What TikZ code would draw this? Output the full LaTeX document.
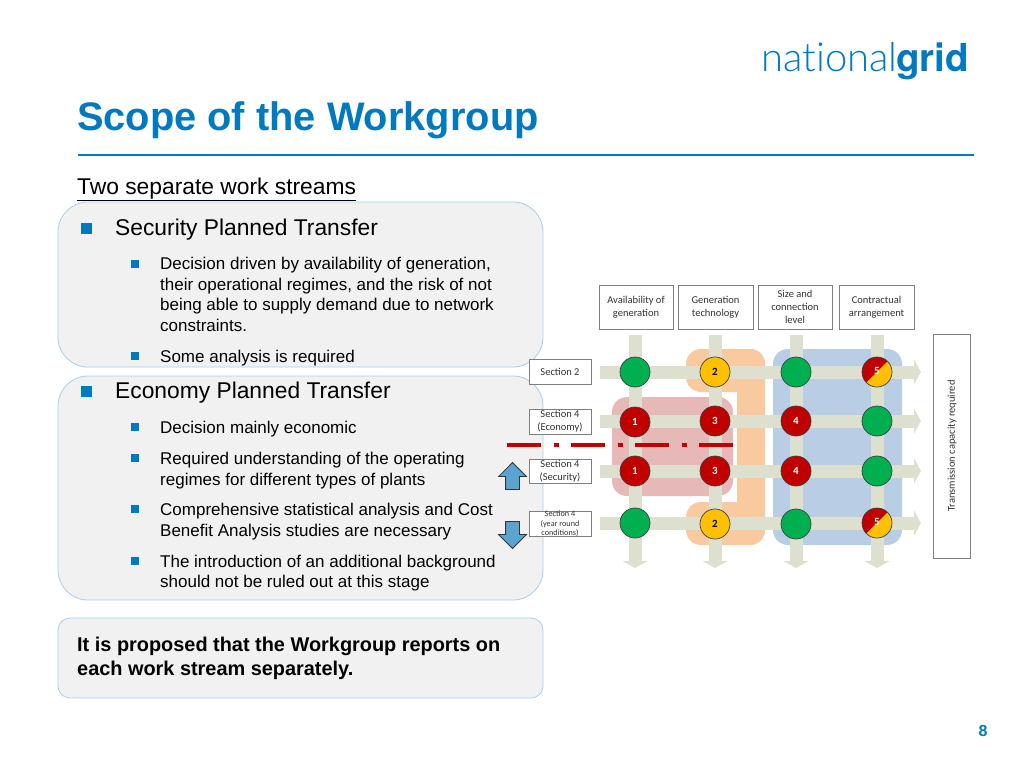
\documentclass[tikz,border=0pt]{standalone}
\usepackage{fontspec}
\setmainfont{Liberation Sans}
\newfontfamily\calibrifont{Carlito}
\newfontfamily\logolight[Ligatures=NoCommon]{Lato Light}
\newfontfamily\logobold{TeX Gyre Heros}
\usetikzlibrary{arrows.meta,shapes.arrows}
\definecolor{ngblue}{HTML}{0079C1}
\definecolor{panelfill}{HTML}{F1F1F1}
\definecolor{panelline}{HTML}{A6CFEE}
\definecolor{barcol}{HTML}{DDDFCF}
\definecolor{cgreen}{HTML}{00B050}
\definecolor{cred}{HTML}{C00000}
\definecolor{cyellow}{HTML}{FFC000}
\definecolor{boxline}{HTML}{7F7F7F}
\definecolor{orangezone}{HTML}{F9C9A0}
\definecolor{redzone}{HTML}{E6B9B8}
\definecolor{bluezone}{HTML}{B9CDE5}
\definecolor{arrowblue}{HTML}{5BA4D2}
\tikzset{
	panel/.style={draw=panelline,fill=panelfill,line width=0.8pt},
	bullone/.style={fill=ngblue,minimum size=11pt,inner sep=0pt},
	bulltwo/.style={fill=ngblue,minimum size=8.5pt,inner sep=0pt},
	headtext/.style={anchor=base west,inner sep=0pt,font=\fontsize{22.8}{27}\selectfont},
	bodytext/.style={anchor=north west,inner sep=0pt,align=left,font=\fontsize{17}{20.5}\selectfont},
	labelbox/.style={draw=boxline,fill=white,line width=0.8pt,inner sep=0pt,align=center,text=black!80,font=\calibrifont\fontsize{10.5}{12.7}\selectfont},
	barline/.style={draw=barcol,line width=13pt,-{Triangle[width=25pt,length=7pt]}},
	plainc/.style={circle,draw=black!75,line width=0.7pt,minimum size=30pt,inner sep=0pt,font=\calibrifont\bfseries\fontsize{11}{12}\selectfont},
	greenc/.style={plainc,fill=cgreen},
	redc/.style={plainc,fill=cred,text=white},
	yellowc/.style={plainc,fill=cyellow},
	shiftarrow/.style={single arrow,draw=black!80,fill=arrowblue,line width=0.8pt,minimum height=27pt,minimum width=27pt,single arrow head extend=7pt,single arrow tip angle=90,inner xsep=0pt,inner ysep=6.5pt}
}
\begin{document}
\begin{tikzpicture}[x=1pt,y=-1pt]
	\useasboundingbox (0,0) rectangle (1024,768);

	\node[anchor=base west,inner sep=0pt,text=ngblue,font=\logolight\fontsize{40}{40}\selectfont] (lognat) at (761,71) {national};
	\node[anchor=base west,inner sep=0pt,text=ngblue,font=\logobold\bfseries\fontsize{38.5}{40}\selectfont] (loggrid) at (896,71) {grid};

	\node[anchor=base west,inner sep=0pt,text=ngblue,font=\bfseries\fontsize{39.8}{44}\selectfont] (title) at (77,130) {Scope of the Workgroup};
	\coordinate (rulea) at (78,155);
	\coordinate (ruleb) at (974,155);
	\draw[ngblue,line width=2pt] (rulea) -- (ruleb);

	\node[anchor=base west,inner sep=0pt,font=\fontsize{22.8}{26}\selectfont] (streams) at (77,194) {\underline{Two separate work streams}};

	\draw[panel,rounded corners=30pt] (58,202) rectangle (543,367);
	\draw[panel,rounded corners=30pt] (58,376) rectangle (543,600);
	\draw[panel,rounded corners=12pt] (58,618) rectangle (543,698);

	\node[bullone] (ba) at (86.5,228) {};
	\node[headtext] (seclab) at (115,235) {Security Planned Transfer};
	\node[bulltwo] (bb) at (135,264) {};
	\node[bodytext] (secone) at (160,257) {Decision driven by availability of generation,\\their operational regimes, and the risk of not\\being able to supply demand due to network\\constraints.};
	\node[bulltwo] (bc) at (135,356) {};
	\node[bodytext] (sectwo) at (160,349.5) {Some analysis is required};

	\node[bullone] (bd) at (86.5,391) {};
	\node[headtext] (ecolab) at (115,398) {Economy Planned Transfer};
	\node[bulltwo] (be) at (135,427) {};
	\node[bodytext] (ecoone) at (160,421) {Decision mainly economic};
	\node[bulltwo] (bf) at (135,458) {};
	\node[bodytext] (ecotwo) at (160,452) {Required understanding of the operating\\regimes for different types of plants};
	\node[bulltwo] (bg) at (135,509) {};
	\node[bodytext] (ecothree) at (160,503) {Comprehensive statistical analysis and Cost\\Benefit Analysis studies are necessary};
	\node[bulltwo] (bh) at (135,561) {};
	\node[bodytext] (ecofour) at (160,554.5) {The introduction of an additional background\\should not be ruled out at this stage};

	\node[bodytext,font=\bfseries\fontsize{19.9}{24}\selectfont] (propose) at (77,637) {It is proposed that the Workgroup reports on\\each work stream separately.};

	\fill[orangezone,rounded corners=15pt] (686,349) rectangle (765,392);
	\fill[orangezone,rounded corners=15pt] (737,349) rectangle (765,545);
	\fill[orangezone,rounded corners=15pt] (686,502) rectangle (765,545);
	\fill[redzone,rounded corners=15pt] (612,397) rectangle (733,496);
	\fill[bluezone,rounded corners=15pt] (773,349) rectangle (902,545);

	\coordinate (cola) at (635,335);
	\coordinate (colaend) at (635,568);
	\coordinate (colb) at (715,335);
	\coordinate (colbend) at (715,568);
	\coordinate (colc) at (796,335);
	\coordinate (colcend) at (796,568);
	\coordinate (cold) at (877,335);
	\coordinate (coldend) at (877,568);
	\coordinate (rowa) at (600,372);
	\coordinate (rowaend) at (921,372);
	\coordinate (rowb) at (600,421);
	\coordinate (rowbend) at (921,421);
	\coordinate (rowc) at (600,471);
	\coordinate (rowcend) at (921,471);
	\coordinate (rowd) at (600,523);
	\coordinate (rowdend) at (921,523);
	\draw[barline] (cola) -- (colaend);
	\draw[barline] (colb) -- (colbend);
	\draw[barline] (colc) -- (colcend);
	\draw[barline] (cold) -- (coldend);
	\draw[barline] (rowa) -- (rowaend);
	\draw[barline] (rowb) -- (rowbend);
	\draw[barline] (rowc) -- (rowcend);
	\draw[barline] (rowd) -- (rowdend);

	\node[greenc] (ca) at (635,372) {};
	\node[yellowc] (cb) at (715,372) {2};
	\node[greenc] (cc) at (796,372) {};
	\coordinate (cd) at (877,372);
	\fill[cred] (cd) ++(45:15pt) arc (45:225:15pt) -- cycle;
	\fill[cyellow] (cd) ++(45:15pt) arc (45:-135:15pt) -- cycle;
	\node[plainc,text=white] (cdtop) at (cd) {\raisebox{3pt}{5}\hspace{5pt}};
	\node[redc] (da) at (635,422) {1};
	\node[redc] (db) at (715,421) {3};
	\node[redc] (dc) at (796,421) {4};
	\node[greenc] (dd) at (877,421) {};
	\node[redc] (ea) at (635,471) {1};
	\node[redc] (eb) at (715,471) {3};
	\node[redc] (ec) at (796,471) {4};
	\node[greenc] (ed) at (877,471) {};
	\node[greenc] (fa) at (635,523) {};
	\node[yellowc] (fb) at (715,524) {2};
	\node[greenc] (fc) at (796,524) {};
	\coordinate (fd) at (877,523);
	\fill[cred] (fd) ++(45:15pt) arc (45:225:15pt) -- cycle;
	\fill[cyellow] (fd) ++(45:15pt) arc (45:-135:15pt) -- cycle;
	\node[plainc,text=white] (fdtop) at (fd) {\raisebox{3pt}{5}\hspace{5pt}};

	\coordinate (cuta) at (507,445);
	\coordinate (cutb) at (733,445);
	\draw[cred,line width=4pt,dash pattern=on 34pt off 12.5pt on 5pt off 12.5pt] (cuta) -- (cutb);

	\node[labelbox,minimum width=74pt,minimum height=44pt] (avail) at (636,307) {Availability of\\generation};
	\node[labelbox,minimum width=75pt,minimum height=44pt] (gentech) at (715.5,307) {Generation\\technology};
	\node[labelbox,minimum width=74pt,minimum height=44pt] (sizelev) at (795,307) {Size and\\connection\\level};
	\node[labelbox,minimum width=75pt,minimum height=44pt] (contract) at (876.5,307) {Contractual\\arrangement};
	\node[labelbox,minimum width=62pt,minimum height=25pt] (sectwob) at (560,371.5) {Section 2};
	\node[labelbox,minimum width=62pt,minimum height=25pt] (secfoure) at (560,421.5) {Section 4\\(Economy)};
	\node[labelbox,minimum width=62pt,minimum height=24pt] (secfours) at (560,471) {Section 4\\(Security)};
	\node[labelbox,minimum width=62pt,minimum height=25pt] (secfoury) at (560,523.5) {};
	\node[inner sep=0pt,align=center,text=black!80,font=\calibrifont\fontsize{8.2}{9.6}\selectfont] (secfourylab) at (560,524) {Section 4\\(year round\\conditions)};
	\node[labelbox,minimum width=37pt,minimum height=224pt] (transcap) at (951.5,446) {};
	\node[rotate=90,inner sep=0pt,text=black!80,font=\calibrifont\fontsize{10.5}{12.7}\selectfont] (translab) at (952,446) {Transmission capacity required};

	\node[shiftarrow,rotate=90] (arrup) at (512.5,479.5) {};
	\node[shiftarrow,rotate=-90] (arrdown) at (512.5,531.5) {};

	\node[inner sep=0pt,text=ngblue,font=\bfseries\fontsize{16}{18}\selectfont] (pageno) at (983,731) {8};
\end{tikzpicture}
\end{document}
